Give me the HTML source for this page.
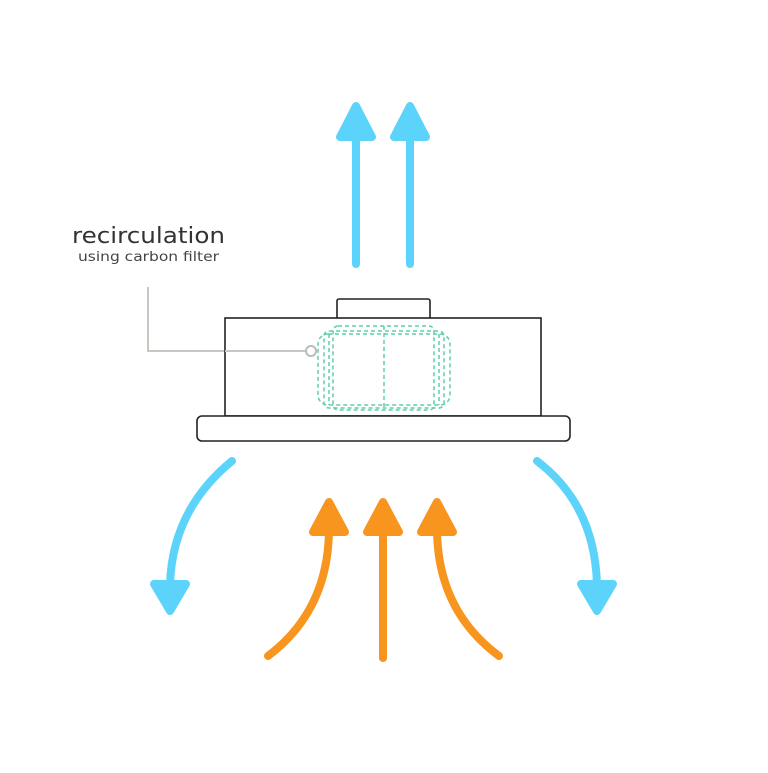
<!DOCTYPE html>
<html><head><meta charset="utf-8"><style>html,body{margin:0;padding:0;background:#fff}</style></head>
<body>
<svg width="768" height="768" viewBox="0 0 768 768" xmlns="http://www.w3.org/2000/svg">
<rect width="768" height="768" fill="#fff"/>
<text x="72" y="243" font-family="DejaVu Sans, sans-serif" font-size="22" fill="#333" textLength="153" lengthAdjust="spacingAndGlyphs">recirculation</text>
<text x="78" y="261" font-family="DejaVu Sans, sans-serif" font-size="13" fill="#444" textLength="141" lengthAdjust="spacingAndGlyphs">using carbon filter</text>
<polyline points="148,287 148,351 306,351" fill="none" stroke="#c8c8c2" stroke-width="2"/>
<!-- hood -->
<rect x="337" y="299" width="93" height="21" rx="2" fill="#fff" stroke="#222" stroke-width="1.6"/>
<rect x="225" y="318" width="316" height="98" fill="#fff" stroke="#222" stroke-width="1.6"/>
<rect x="197" y="416" width="373" height="25" rx="5" fill="#fff" stroke="#222" stroke-width="1.6"/>
<line x1="225" y1="351" x2="306" y2="351" stroke="#c8c8c2" stroke-width="2"/>
<circle cx="311" cy="351" r="5" fill="#fff" stroke="#bbb" stroke-width="2"/>
<!-- filter -->
<g fill="none" stroke="#5fcfa8" stroke-width="1.5" stroke-dasharray="4,3">
<rect x="318" y="334" width="132" height="71" rx="10"/>
<rect x="324" y="331" width="120" height="77" rx="5"/>
<rect x="333" y="326" width="101" height="84" rx="5"/>
<line x1="384" y1="326" x2="384" y2="410"/>
<line x1="329" y1="334" x2="329" y2="405"/>
<line x1="439" y1="334" x2="439" y2="405"/>
</g>
<!-- blue arrows -->
<g stroke="#5bd3fa" stroke-width="8" stroke-linecap="round" fill="#5bd3fa" stroke-linejoin="round">
<line x1="356" y1="264" x2="356" y2="135"/>
<line x1="410" y1="264" x2="410" y2="135"/>
<polygon points="356,106 340,137 372,137"/>
<polygon points="410,106 394,137 426,137"/>
<path d="M232,461 Q172,510 170,585" fill="none"/>
<polygon points="170,611 154,584 186,584"/>
<path d="M537,461 Q595,505 597,585" fill="none"/>
<polygon points="597,611 581,584 613,584"/>
</g>
<g stroke="#f7951e" stroke-width="8" stroke-linecap="round" fill="#f7951e" stroke-linejoin="round">
<path d="M268,656 Q329,610 329,528" fill="none"/>
<polygon points="329,502 313,532 345,532"/>
<line x1="383" y1="658" x2="383" y2="528"/>
<polygon points="383,502 367,532 399,532"/>
<path d="M499,656 Q437,610 437,528" fill="none"/>
<polygon points="437,502 421,532 453,532"/>
</g>
</svg>
</body></html>
